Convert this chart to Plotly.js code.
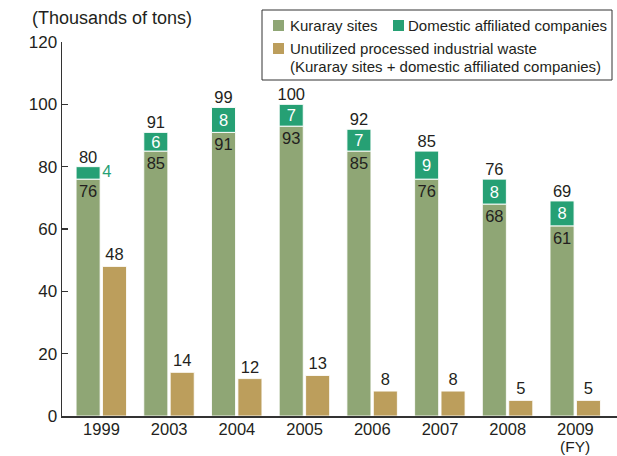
<!DOCTYPE html>
<html>
<head>
<meta charset="utf-8">
<script src="https://cdn.plot.ly/plotly-3.0.1.min.js"></script>
<style>html,body{margin:0;padding:0;background:#fff;}#chart{width:617px;height:456px;}</style>
</head>
<body>
<div id="chart"></div>
<script>
// ---- data ----
var years = ['1999', '2003', '2004', '2005', '2006', '2007', '2008', '2009'];
var kuraraySites = [76, 85, 91, 93, 85, 76, 68, 61];
var domesticAffiliated = [4, 6, 8, 7, 7, 9, 8, 8];
var totals = [80, 91, 99, 100, 92, 85, 76, 69];
var unutilizedWaste = [48, 14, 12, 13, 8, 8, 5, 5];
var tickLabels = ['1999', '2003', '2004', '2005', '2006', '2007', '2008', '2009'];
var fiscalYearNote = '(FY)';

// ---- style ----
var FONT = '"Liberation Sans", Arial, Helvetica, sans-serif';
var TXT = '#231f20';
var GREEN = 'rgb(143,166,117)';
var TEAL = 'rgb(38,160,116)';
var TAN = 'rgb(188,158,92)';
var BW = 0.355, GOFF = -0.375, TOFF = 0.015;
var L = 62, T = 42, W = 617, H = 456, B = 40, R = 0;
var PW = W - L - R, PH = H - T - B;
function px2x(px) { return (px - L) / PW; }
function py2y(py) { return (H - B - py) / PH; }

var idx = years.map(function (_, i) { return i; });
var greenCenter = idx.map(function (i) { return i + GOFF + BW / 2; });
var smallTeal = domesticAffiliated.map(function (v) { return v < 5; });

var traces = [
  {
    type: 'bar', name: 'Kuraray sites', x: idx, y: kuraraySites,
    width: BW, offset: GOFF,
    marker: { color: GREEN, line: { color: 'rgba(255,255,255,0.85)', width: 1 } },
    text: kuraraySites.map(String), textposition: 'inside', insidetextanchor: 'end',
    textangle: 0, constraintext: 'none',
    textfont: { family: FONT, size: 16.5, color: TXT },
    hoverinfo: 'skip'
  },
  {
    type: 'bar', name: 'Domestic affiliated companies', x: idx, y: domesticAffiliated,
    base: kuraraySites, width: BW, offset: GOFF,
    marker: { color: TEAL, line: { color: 'rgba(255,255,255,0.95)', width: 1 } },
    text: domesticAffiliated.map(function (v, i) { return smallTeal[i] ? '' : String(v); }),
    textposition: 'inside', insidetextanchor: 'middle', textangle: 0, constraintext: 'none',
    textfont: { family: FONT, size: 16.5, color: '#ffffff' },
    hoverinfo: 'skip'
  },
  {
    type: 'bar', name: 'Unutilized processed industrial waste', x: idx, y: unutilizedWaste,
    width: BW, offset: TOFF,
    marker: { color: TAN, line: { color: 'rgba(255,255,255,0.85)', width: 1 } },
    text: unutilizedWaste.map(String), textposition: 'outside', textangle: 0, constraintext: 'none',
    textfont: { family: FONT, size: 16.5, color: TXT },
    cliponaxis: false, hoverinfo: 'skip'
  },
  {
    type: 'scatter', mode: 'text', x: greenCenter, y: totals,
    text: totals.map(String), textposition: 'top center',
    textfont: { family: FONT, size: 16.5, color: TXT },
    cliponaxis: false, hoverinfo: 'skip'
  },
  {
    type: 'scatter', mode: 'text',
    x: idx.filter(function (i) { return smallTeal[i]; }).map(function (i) { return i + 0.08; }),
    y: idx.filter(function (i) { return smallTeal[i]; }).map(function (i) { return kuraraySites[i] + domesticAffiliated[i] / 2; }),
    text: idx.filter(function (i) { return smallTeal[i]; }).map(function (i) { return String(domesticAffiliated[i]); }),
    textposition: 'middle center',
    textfont: { family: FONT, size: 16.5, color: TEAL },
    cliponaxis: false, hoverinfo: 'skip'
  }
];

var shapes = [
  { type: 'rect', xref: 'paper', yref: 'paper', x0: px2x(262), x1: px2x(612), y0: py2y(80), y1: py2y(10),
    line: { color: '#333', width: 1 }, fillcolor: '#fff', layer: 'above' },
  { type: 'rect', xref: 'paper', yref: 'paper', x0: px2x(273), x1: px2x(284), y0: py2y(31), y1: py2y(20),
    line: { width: 0 }, fillcolor: GREEN, layer: 'above' },
  { type: 'rect', xref: 'paper', yref: 'paper', x0: px2x(393), x1: px2x(404), y0: py2y(31), y1: py2y(20),
    line: { width: 0 }, fillcolor: TEAL, layer: 'above' },
  { type: 'rect', xref: 'paper', yref: 'paper', x0: px2x(273), x1: px2x(284), y0: py2y(54), y1: py2y(43),
    line: { width: 0 }, fillcolor: TAN, layer: 'above' }
];

function legText(t, px, py) {
  return { xref: 'paper', yref: 'paper', x: px2x(px), y: py2y(py), xanchor: 'left', yanchor: 'middle',
    text: t, showarrow: false, font: { family: FONT, size: 15, color: TXT } };
}

var annotations = [
  { xref: 'paper', yref: 'paper', x: px2x(30), y: py2y(18), xanchor: 'left', yanchor: 'middle',
    text: '(Thousands of tons)', showarrow: false, font: { family: FONT, size: 18, color: TXT } },
  legText('Kuraray sites', 288, 25.5),
  legText('Domestic affiliated companies', 406, 25.5),
  legText('Unutilized processed industrial waste', 288, 48.5),
  legText('(Kuraray sites + domestic affiliated companies)', 288, 66.5),
  { xref: 'x', yref: 'paper', x: idx[idx.length - 1], y: py2y(456), xanchor: 'center', yanchor: 'bottom',
    text: fiscalYearNote, showarrow: false, borderpad: 0, font: { family: FONT, size: 15.5, color: TXT } }
];

var layout = {
  width: W, height: H,
  margin: { l: L, r: R, t: T, b: B, pad: 0 },
  paper_bgcolor: '#fff', plot_bgcolor: '#fff',
  showlegend: false,
  barmode: 'overlay',
  font: { family: FONT, color: TXT },
  xaxis: {
    range: [-0.583, 7.614], tickmode: 'array', tickvals: idx, ticktext: tickLabels,
    showline: true, linecolor: '#333', linewidth: 1.5, ticks: '', showgrid: false, zeroline: false,
    ticklabelstandoff: -2,
    tickfont: { family: FONT, size: 16.5, color: TXT }, fixedrange: true
  },
  yaxis: {
    range: [0, 120], dtick: 20, tick0: 0, ticks: 'inside', ticklen: 6, tickwidth: 1.5, tickcolor: '#333',
    showline: true, linecolor: '#333', linewidth: 1.5, showgrid: false, zeroline: false,
    tickfont: { family: FONT, size: 17, color: TXT }, fixedrange: true
  },
  shapes: shapes,
  annotations: annotations
};

Plotly.newPlot('chart', traces, layout, { displayModeBar: false, staticPlot: true });
</script>
</body>
</html>
